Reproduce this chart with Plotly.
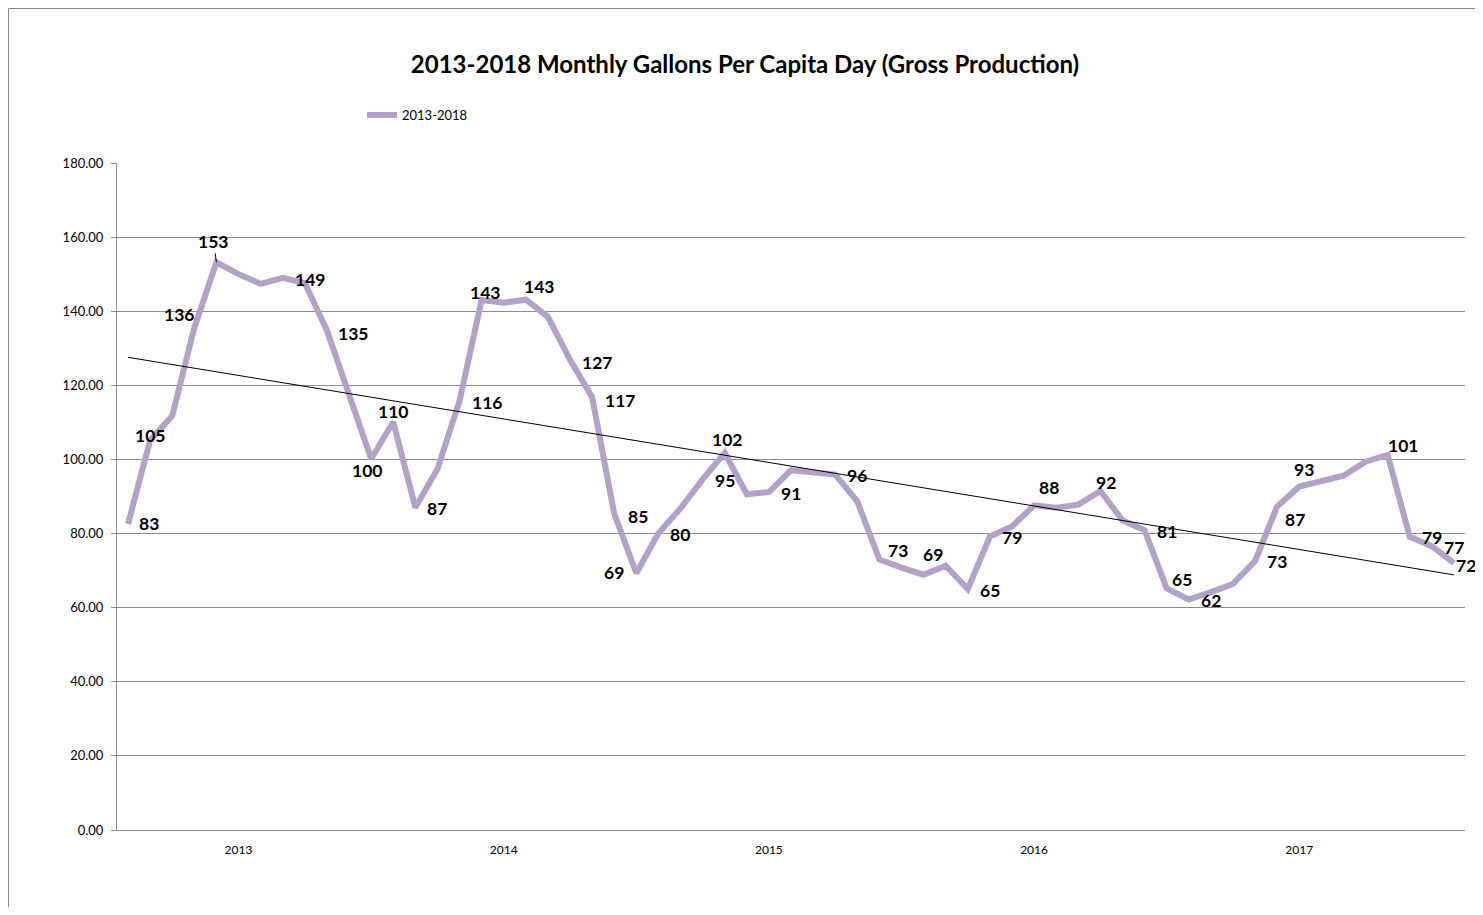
import numpy as np
import plotly.graph_objects as go

title = "2013-2018 Monthly Gallons Per Capita Day (Gross Production)"
series_name = "2013-2018"

values = [82.6, 105.2, 111.8, 135.6, 153.2, 150.0, 147.4, 149.0, 147.6, 134.8,
          117.5, 100.2, 110.1, 87.0, 97.4, 115.8, 143.0, 142.3, 143.1, 138.5,
          126.9, 116.8, 85.4, 69.3, 80.1, 86.8, 94.6, 101.8, 90.6, 91.2,
          97.1, 96.3, 95.9, 88.7, 73.0, 70.8, 68.9, 71.3, 65.0, 79.2,
          81.9, 87.6, 87.0, 87.8, 91.5, 83.6, 80.9, 65.2, 62.2, 64.2,
          66.4, 72.6, 87.3, 92.7, 94.0, 95.6, 99.4, 101.2, 79.1, 76.6, 72.0]

year_tick_index = [5, 17, 29, 41, 53]
year_labels = ["2013", "2014", "2015", "2016", "2017"]

y_ticks = [0, 20, 40, 60, 80, 100, 120, 140, 160, 180]

labeled_index = [0, 1, 3, 4, 7, 9, 11, 12, 13, 15, 16, 18, 20, 21, 22, 23, 24, 26,
                 27, 29, 32, 34, 36, 38, 39, 41, 44, 46, 47, 48, 51, 52, 53, 57,
                 58, 59, 60]

# label placement offsets in pixels (dx, dy-down)
R = (22, 1)
label_offsets = {
    0: (21, 0), 1: (0, -5), 3: (-15, -13), 4: (-3, -21), 7: (27, 2), 9: (26, 3),
    11: (-4, 12), 12: (0, -11), 13: R, 15: (27, 2), 16: (3, -8), 18: (13, -13),
    20: (27, 3), 21: (28, 3), 22: (24, 3), 23: (-22, -1), 24: R, 26: R,
    27: (2, -13), 29: R, 32: R, 34: (19, -9), 36: (9, -20), 38: R, 39: R,
    41: (15, -18), 44: (6, -8), 46: R, 47: (15, -9), 48: R, 51: R,
    52: (18, 13), 53: (5, -17), 57: (15, -10), 58: R, 59: R, 60: (12, 2),
}

x = np.arange(len(values))
slope, intercept = np.polyfit(x, values, 1)
trend = slope * x + intercept

LINE_COLOR = "#B3A2C7"
GRID = "#8C8C8C"
FONT = "Lato"

fig = go.Figure()
fig.add_trace(go.Scatter(x=x, y=values, mode="lines", name=series_name,
                         line=dict(color=LINE_COLOR, width=6)))
fig.add_trace(go.Scatter(x=[x[0], x[-1]], y=[trend[0], trend[-1]], mode="lines",
                         showlegend=False, line=dict(color="black", width=1)))

LBL_FONT = dict(family=FONT, size=17.5, color="black", weight="bold")
for i in labeled_index:
    dx, dy = label_offsets[i]
    txt = f"{round(values[i])}"
    if i == 4:
        fig.add_annotation(x=i, y=values[i], text=txt, showarrow=True, ax=dx, ay=dy,
                           arrowhead=0, arrowwidth=1, arrowcolor="black", standoff=0,
                           font=LBL_FONT)
    else:
        fig.add_annotation(x=i, y=values[i], text=txt, showarrow=False,
                           xshift=dx, yshift=-dy, font=LBL_FONT)

W, H = 1467, 899
ML, MR, MT, MB = 109, 10, 155, 77
pw = W - ML - MR
ph = H - MT - MB

# outer chart border
fig.add_shape(type="rect", xref="paper", yref="paper",
              x0=(0.5 - ML) / pw, x1=(W + 20 - ML) / pw,
              y0=(H - MB - H - 40) / ph, y1=(H - MB - 0.5) / ph,
              line=dict(color="#888888", width=1), fillcolor="rgba(0,0,0,0)", layer="below")

fig.update_layout(
    width=W, height=H,
    margin=dict(l=ML, r=MR, t=MT, b=MB),
    paper_bgcolor="white", plot_bgcolor="white",
    title=dict(text=title, x=737 / W, xanchor="center",
               y=1 - 57 / H, yanchor="middle",
               font=dict(family=FONT, size=24, color="black", weight="bold")),
    showlegend=True,
    legend=dict(x=(354 - ML) / pw, y=(H - MB - 107) / ph, xanchor="left", yanchor="middle",
                orientation="h", font=dict(family=FONT, size=13, color="black"),
                itemwidth=30, bgcolor="rgba(0,0,0,0)"),
    xaxis=dict(range=[-0.5, len(values) - 0.5], tickmode="array",
               tickvals=year_tick_index, ticktext=year_labels, showgrid=False,
               showline=True, linecolor=GRID, linewidth=1, ticks="", zeroline=False,
               ticklabelstandoff=9,
               tickfont=dict(family=FONT, size=12, color="black")),
    yaxis=dict(range=[0, 180], tickmode="array", tickvals=y_ticks, tickformat=".2f",
               showgrid=True, gridcolor=GRID, gridwidth=1, showline=True,
               linecolor=GRID, linewidth=1, ticks="outside", ticklen=5, tickcolor=GRID,
               zeroline=False, ticklabelstandoff=5,
               tickfont=dict(family=FONT, size=13, color="black")),
)

fig.write_html("out.html")
